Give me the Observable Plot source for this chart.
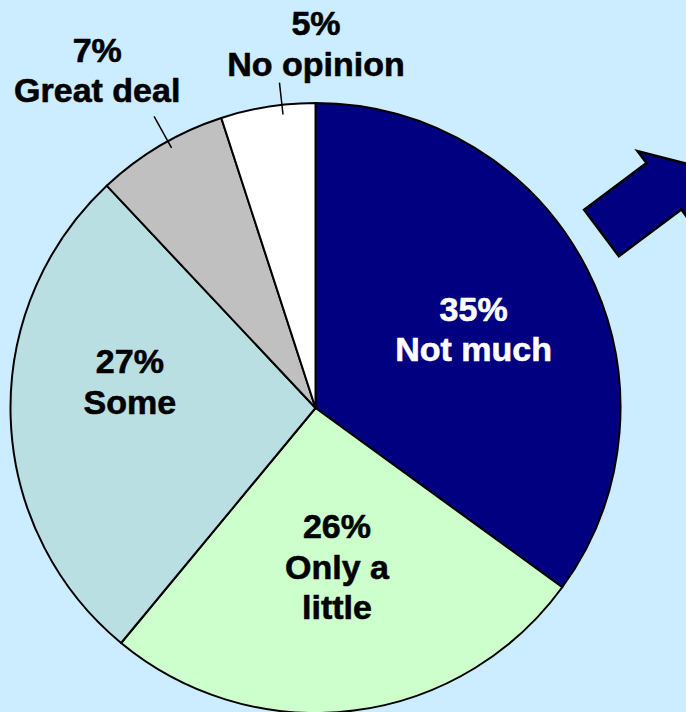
<!DOCTYPE html>
<html>
<head>
<meta charset="utf-8">
<script src="https://cdn.jsdelivr.net/npm/d3@7"></script>
<script src="https://cdn.jsdelivr.net/npm/@observablehq/plot@0.6"></script>
<style>
  html, body { margin: 0; padding: 0; background: #CCECFF; overflow: hidden; }
  #chart svg { display: block; }
</style>
</head>
<body>
<div id="chart"></div>
<script>
// ---- data ----
const categories = ["Not much", "Only a little", "Some", "Great deal", "No opinion"];
const values = [35, 26, 27, 7, 5];
const pctLabels = ["35%", "26%", "27%", "7%", "5%"];
const nameLabels = ["Not much", "Only a\nlittle", "Some", "Great deal", "No opinion"];

// ---- styles / layout ----
const sliceColors = ["#000080", "#CCFFCC", "#B9DFE2", "#C0C0C0", "#FFFFFF"];
const textColors = ["#FFFFFF", "#000000", "#000000", "#000000", "#000000"];
// label placement: angle shift from slice middle (deg) and radius as fraction of pie radius
const labelLayout = {
  "Not much": {shift: 0, r: 0.58},
  "Only a little": {shift: -0.4, r: 0.52},
  "Some": {shift: 10.3, r: 0.617},
  "Great deal": {shift: -2.2, r: 1.324},
  "No opinion": {shift: 9, r: 1.20}
};
const leaderLayout = {
  "Great deal": {shift: 1.6, r1: 0.977, r2: 1.095},
  "No opinion": {shift: 2.6, r1: 0.97, r2: 1.075}
};

const W = 686, H = 712;
const cxPx = 315.5, cyPx = 408, Rpx = 305;

const arcs = d3.pie().sort(null).value(d => d)(values);
const rad = Math.PI / 180;
const polar = (aDeg, r) => [r * Math.sin(aDeg * rad), r * Math.cos(aDeg * rad)];

const labels = categories.map((c, i) => {
  const mid = (arcs[i].startAngle + arcs[i].endAngle) / 2 / rad;
  const L = labelLayout[c];
  const [x, y] = polar(mid + L.shift, L.r);
  return {cat: c, x, y, text: pctLabels[i] + "\n" + nameLabels[i], fill: textColors[i]};
});
const leaders = categories.filter(c => leaderLayout[c]).map(c => {
  const i = categories.indexOf(c);
  const mid = (arcs[i].startAngle + arcs[i].endAngle) / 2 / rad;
  const L = leaderLayout[c];
  const [x1, y1] = polar(mid + L.shift, L.r1);
  const [x2, y2] = polar(mid + L.shift, L.r2);
  return {x1, y1, x2, y2};
});

const color = d3.scaleOrdinal(categories, sliceColors);

function pieMark(index, scales) {
  const cx = scales.x(0), cy = scales.y(0), R = scales.x(1) - scales.x(0);
  const g = d3.create("svg:g").attr("transform", `translate(${cx},${cy})`);
  const arcGen = d3.arc().innerRadius(0).outerRadius(R);
  g.selectAll("path").data(arcs).join("path")
    .attr("d", arcGen)
    .attr("fill", (d, i) => color(categories[i]))
    .attr("stroke", "#000")
    .attr("stroke-width", 2)
    .attr("stroke-linejoin", "round");
  return g.node();
}

// decorative arrow (upper right), partially off the canvas
function arrowMark(index, scales) {
  const T = [601.5, 233], d = [0.8, -0.6], n = [0.6, 0.8];
  const P = (a, p) => [T[0] + a * d[0] + p * n[0], T[1] + a * d[1] + p * n[1]];
  const pts = [P(0, -29), P(78, -29), P(78, -44), P(113, 0), P(78, 44), P(78, 29), P(0, 29)];
  return d3.create("svg:path")
    .attr("d", "M" + pts.map(p => p.join(",")).join("L") + "Z")
    .attr("fill", "#000080")
    .attr("stroke", "#000")
    .attr("stroke-width", 2.5)
    .attr("stroke-linejoin", "miter")
    .node();
}

const chart = Plot.plot({
  width: W,
  height: H,
  margin: 0,
  style: {background: "#CCECFF", fontFamily: "'Liberation Sans', Arial, sans-serif", overflow: "hidden"},
  x: {domain: [-cxPx / Rpx, (W - cxPx) / Rpx], axis: null},
  y: {domain: [-(H - cyPx) / Rpx, cyPx / Rpx], axis: null},
  marks: [
    pieMark,
    arrowMark,
    Plot.link(leaders, {x1: "x1", y1: "y1", x2: "x2", y2: "y2", stroke: "#000", strokeWidth: 1.5}),
    Plot.text(labels, {
      x: "x", y: "y", text: "text", fill: "fill",
      fontFamily: "'Liberation Sans', Arial, sans-serif",
      fontSize: 34, fontWeight: "bold", lineHeight: 1.19,
      lineAnchor: "middle", textAnchor: "middle",
      stroke: "fill", strokeWidth: 0.6
    })
  ]
});
document.getElementById("chart").appendChild(chart);
</script>
</body>
</html>
